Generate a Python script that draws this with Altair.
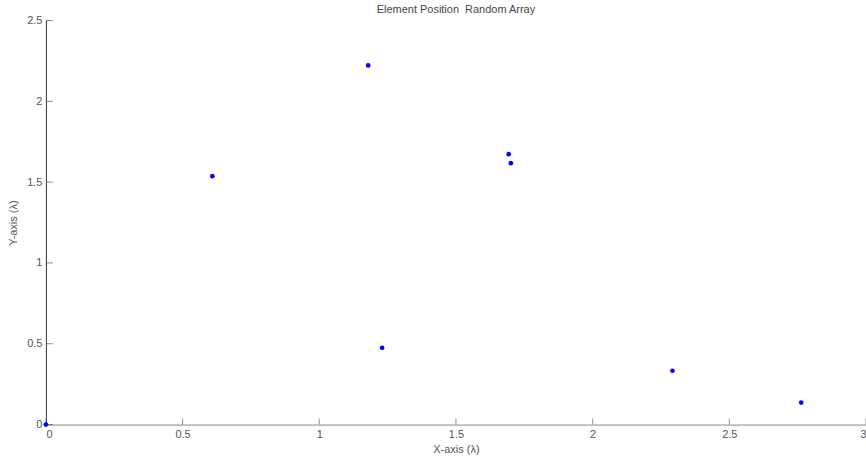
import altair as alt
import pandas as pd

x_vals = [0.0, 0.609, 1.179, 1.693, 1.701, 1.230, 2.292, 2.763]
y_vals = [0.0, 1.537, 2.222, 1.673, 1.617, 0.475, 0.333, 0.136]
x_ticks = [0, 0.5, 1, 1.5, 2, 2.5, 3]
y_ticks = [0, 0.5, 1, 1.5, 2, 2.5]

df = pd.DataFrame({"x": x_vals, "y": y_vals})
xt = pd.DataFrame({"t": x_ticks})
yt = pd.DataFrame({"t": y_ticks})

W, H = 822, 405
xs = alt.Scale(domain=[0, 3], nice=False, zero=False)
ys = alt.Scale(domain=[0, 2.5], nice=False, zero=False)

font = "Liberation Sans"
axis_common = dict(tickSize=0, labelColor="#555555", labelFontSize=11, labelFont=font,
                   titleFont=font, titleFontSize=11, titleFontWeight="normal", titleColor="#555555",
                   grid=False)

pts = alt.Chart(df).mark_point(filled=True, color="#0000ff", size=22, opacity=1).encode(
    x=alt.X("x:Q", scale=xs, axis=alt.Axis(values=x_ticks, title="X-axis (λ)", labelPadding=4,
                                          titlePadding=4, format="~g", domainColor="#888888",
                                          **axis_common)),
    y=alt.Y("y:Q", scale=ys, axis=alt.Axis(values=y_ticks, title="Y-axis (λ)", labelPadding=4,
                                          titlePadding=8, format="~g", domainColor="#333333",
                                          **axis_common)),
)

xtk = alt.Chart(xt).mark_tick(color="#666666", size=6, thickness=1).encode(
    x=alt.X("t:Q", scale=xs), y=alt.value(H - 3))
ytk = alt.Chart(yt).mark_tick(color="#555555", size=7, thickness=1).encode(
    y=alt.Y("t:Q", scale=ys), x=alt.value(3.5))

chart = alt.layer(xtk, ytk, pts).properties(
    width=W, height=H,
    title=alt.TitleParams("Element Position\u00a0\u00a0Random Array", font=font, fontSize=11,
                          fontWeight="normal", color="#444444", offset=0),
    autosize=alt.AutoSizeParams(type="none"),
    padding={"left": 46, "top": 20, "right": 0, "bottom": 36},
).configure_view(stroke=None)

chart.save("out.html", embed_options={"renderer": "svg", "actions": False})
